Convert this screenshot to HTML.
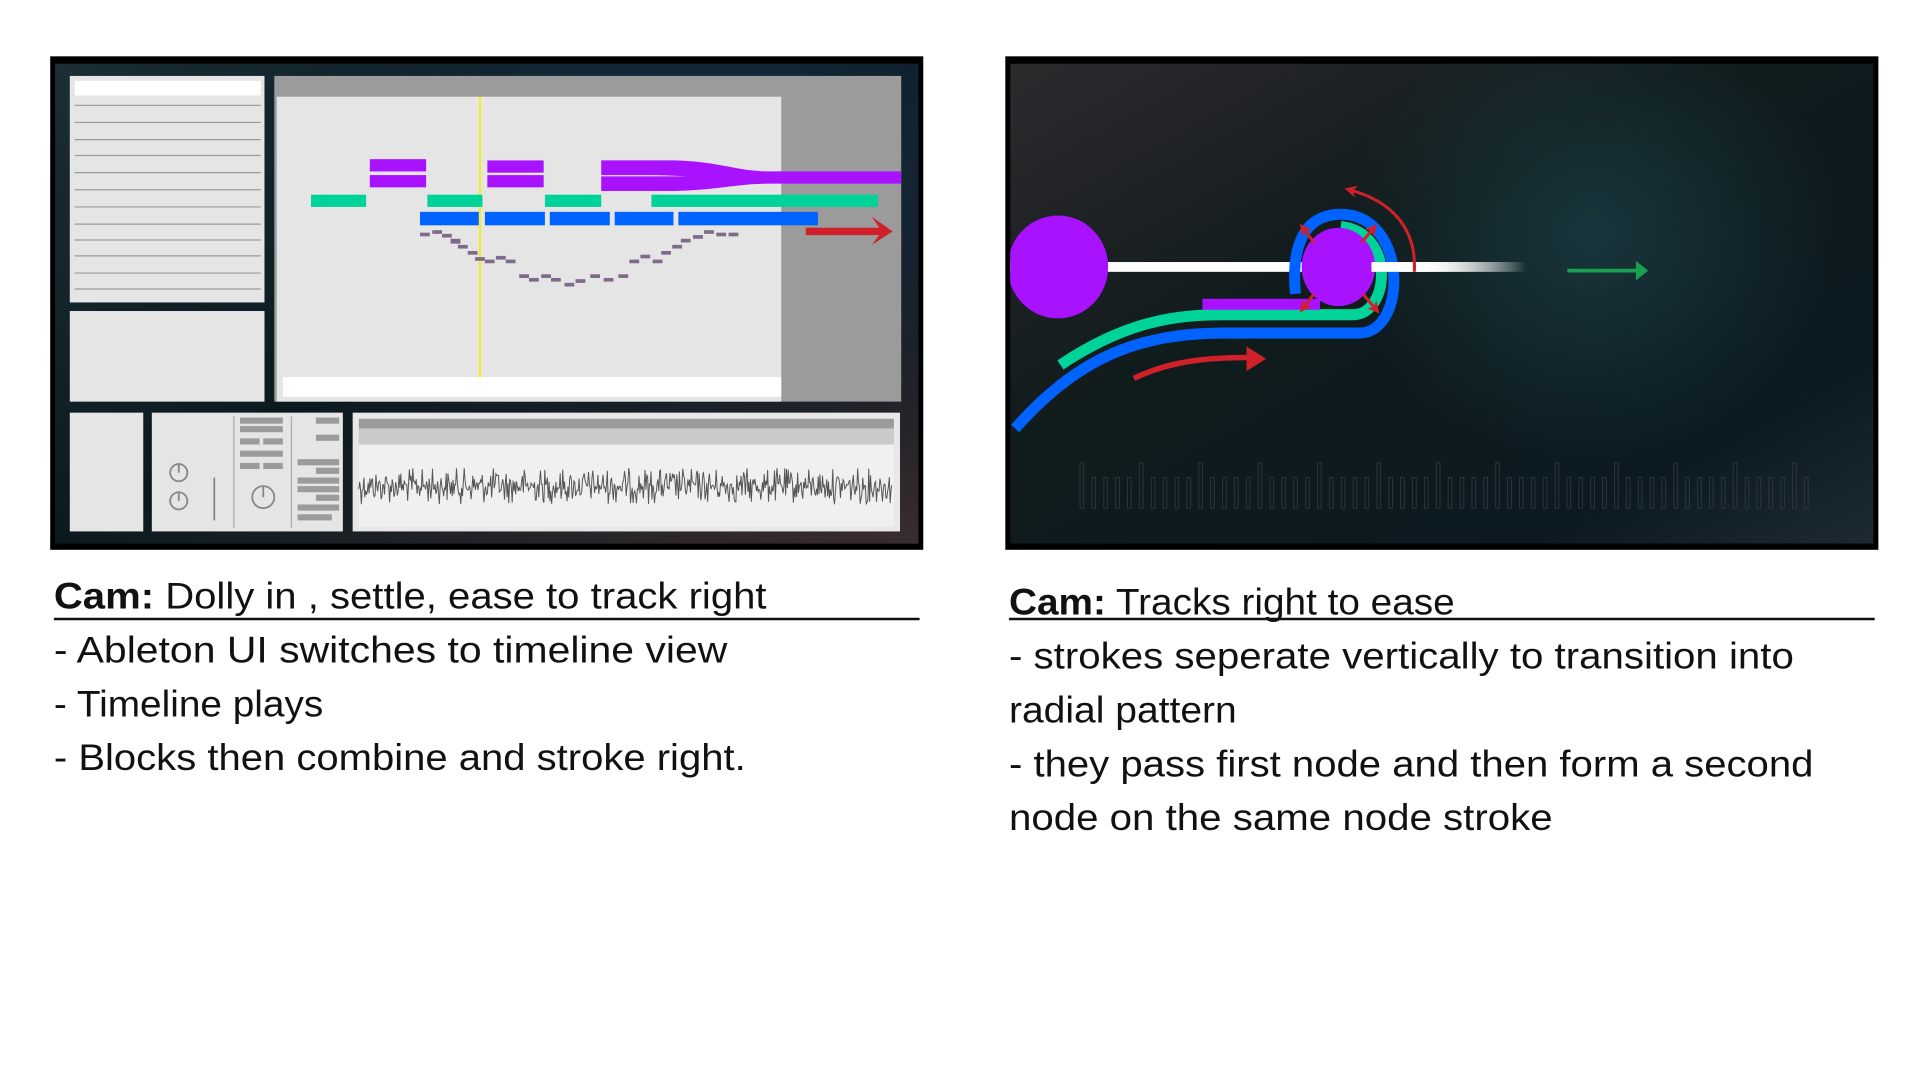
<!DOCTYPE html>
<html><head><meta charset="utf-8"><style>
html,body{margin:0;padding:0;background:#fff;}
svg{display:block}
text{font-family:"Liberation Sans Narrow","Liberation Sans",sans-serif;font-size:30px;fill:#111;}
</style></head><body>
<svg width="1920" height="1080" viewBox="0 0 1568 882" xmlns="http://www.w3.org/2000/svg">
<defs>
<radialGradient id="lg1" cx="0.75" cy="0.2" r="0.8"><stop offset="0" stop-color="#17304a"/><stop offset="1" stop-color="#0a1418" stop-opacity="0"/></radialGradient>
<linearGradient id="lbg" x1="0" y1="0" x2="1" y2="1"><stop offset="0" stop-color="#1c3036"/><stop offset="0.5" stop-color="#0b1a1f"/><stop offset="1" stop-color="#3a2c30"/></linearGradient>
<linearGradient id="rbg" x1="0" y1="0" x2="1" y2="1"><stop offset="0" stop-color="#2e2a2e"/><stop offset="0.4" stop-color="#101b1c"/><stop offset="0.8" stop-color="#0b1a22"/><stop offset="1" stop-color="#1c2a33"/></linearGradient>
<radialGradient id="rglow" cx="0.5" cy="0.5" r="0.5"><stop offset="0" stop-color="#1c4148" stop-opacity="0.7"/><stop offset="1" stop-color="#1c4148" stop-opacity="0"/></radialGradient>
<linearGradient id="fade" x1="0" x2="1"><stop offset="0.8" stop-color="#fff"/><stop offset="1" stop-color="#fff" stop-opacity="0"/></linearGradient>
<linearGradient id="fade2" x1="0" x2="1"><stop offset="0" stop-color="#fff"/><stop offset="1" stop-color="#fff" stop-opacity="0"/></linearGradient>
<clipPath id="rc"><rect x="825" y="52" width="705" height="392"/></clipPath>
<marker id="ar" viewBox="0 0 10 10" refX="6" refY="5" markerWidth="4" markerHeight="4" orient="auto"><path d="M0,0 L10,5 L0,10 L3,5z" fill="#d0202a"/></marker>
</defs>

<!-- LEFT PANEL -->
<rect x="41" y="46" width="713" height="403" fill="#000"/>
<rect x="45" y="52" width="705" height="392" fill="url(#lbg)"/>
<rect x="45" y="52" width="705" height="392" fill="url(#lg1)"/>
<rect x="57" y="62" width="159" height="185" fill="#e5e5e5"/>
<rect x="61" y="66" width="152" height="12" fill="#fff"/>
<g stroke="#9a9a9a" stroke-width="1">
<line x1="61" y1="86" x2="213" y2="86"/><line x1="61" y1="100" x2="213" y2="100"/><line x1="61" y1="114" x2="213" y2="114"/><line x1="61" y1="127" x2="213" y2="127"/><line x1="61" y1="141" x2="213" y2="141"/><line x1="61" y1="155" x2="213" y2="155"/><line x1="61" y1="169" x2="213" y2="169"/><line x1="61" y1="183" x2="213" y2="183"/><line x1="61" y1="196" x2="213" y2="196"/><line x1="61" y1="209" x2="213" y2="209"/><line x1="61" y1="223" x2="213" y2="223"/><line x1="61" y1="236" x2="213" y2="236"/>
</g>
<rect x="57" y="254" width="159" height="74" fill="#e5e5e5"/>
<rect x="224" y="62" width="512" height="266" fill="#9b9b9b"/>
<rect x="226" y="79" width="412" height="249" fill="#e5e5e5"/>
<rect x="231" y="308" width="407" height="16" fill="#fff"/>
<line x1="392" y1="79" x2="392" y2="308" stroke="#f5f000" stroke-width="1.5"/>
<g fill="#a812ff">
<rect x="302" y="130" width="46" height="10"/><rect x="302" y="143" width="46" height="10"/>
<rect x="398" y="131" width="46" height="10"/><rect x="398" y="143" width="46" height="10"/>
<path d="M491,131 L550,131 C590,132 600,140 630,140 L736,140 L736,150 L630,150 C600,150 590,155 550,156 L491,156 L491,144 L560,144 C540,143 540,143 491,143z"/>
</g>
<g fill="#00d39a">
<rect x="254" y="159" width="45" height="10"/><rect x="349" y="159" width="45" height="10"/><rect x="445" y="159" width="46" height="10"/><rect x="532" y="159" width="185" height="10"/>
</g>
<g fill="#0062ff">
<rect x="343" y="173" width="48" height="11"/><rect x="396" y="173" width="49" height="11"/><rect x="449" y="173" width="49" height="11"/><rect x="502" y="173" width="48" height="11"/><rect x="554" y="173" width="114" height="11"/>
</g>
<path d="M658,186 L718,186 L712,177 L729,189 L712,200 L718,192 L658,192z" fill="#d0202a"/>
<g fill="#806a8a">
<rect x="343" y="190" width="8" height="3"/><rect x="353" y="188" width="8" height="3"/><rect x="361" y="191" width="8" height="3"/><rect x="368" y="195" width="8" height="4"/><rect x="374" y="200" width="8" height="3"/><rect x="382" y="205" width="8" height="3"/><rect x="388" y="210" width="8" height="3"/><rect x="396" y="212" width="8" height="3"/><rect x="405" y="209" width="8" height="3"/><rect x="413" y="212" width="8" height="3"/><rect x="424" y="224" width="8" height="3"/><rect x="432" y="227" width="8" height="3"/><rect x="442" y="224" width="8" height="3"/><rect x="450" y="227" width="8" height="3"/><rect x="461" y="231" width="8" height="3"/><rect x="470" y="228" width="8" height="3"/><rect x="482" y="224" width="8" height="3"/><rect x="493" y="227" width="8" height="3"/><rect x="505" y="224" width="8" height="3"/><rect x="514" y="212" width="8" height="3"/><rect x="523" y="208" width="8" height="3"/><rect x="533" y="212" width="8" height="3"/><rect x="540" y="205" width="8" height="3"/><rect x="549" y="200" width="8" height="3"/><rect x="556" y="195" width="8" height="3"/><rect x="566" y="192" width="8" height="3"/><rect x="575" y="188" width="8" height="3"/><rect x="585" y="190" width="8" height="3"/><rect x="595" y="190" width="8" height="3"/>
</g>
<rect x="57" y="337" width="60" height="97" fill="#e5e5e5"/>
<rect x="124" y="337" width="156" height="97" fill="#e5e5e5"/>
<g stroke="#888" fill="none" stroke-width="1.5">
<circle cx="146" cy="386" r="7"/><circle cx="146" cy="409" r="7"/><circle cx="215" cy="406" r="9"/>
<line x1="146" y1="379" x2="146" y2="386"/><line x1="146" y1="402" x2="146" y2="409"/><line x1="215" y1="397" x2="215" y2="406"/>
<line x1="175" y1="390" x2="175" y2="425"/>
</g>
<line x1="191" y1="340" x2="191" y2="431" stroke="#aaa"/><line x1="238" y1="340" x2="238" y2="431" stroke="#aaa"/>
<g fill="#9b9b9b">
<rect x="196" y="341" width="35" height="5"/><rect x="196" y="348" width="35" height="5"/><rect x="196" y="358" width="16" height="5"/><rect x="215" y="358" width="16" height="5"/><rect x="196" y="368" width="35" height="5"/><rect x="196" y="378" width="16" height="5"/><rect x="215" y="378" width="16" height="5"/>
<rect x="258" y="341" width="19" height="5"/><rect x="258" y="355" width="19" height="5"/><rect x="243" y="375" width="34" height="5"/><rect x="258" y="382" width="19" height="5"/><rect x="243" y="390" width="34" height="5"/><rect x="243" y="397" width="34" height="5"/><rect x="258" y="404" width="19" height="5"/><rect x="243" y="412" width="34" height="5"/><rect x="243" y="420" width="28" height="5"/>
</g>
<rect x="288" y="337" width="447" height="97" fill="#e8e8e8"/>
<rect x="293" y="342" width="437" height="8" fill="#9b9b9b"/>
<rect x="293" y="350" width="437" height="13" fill="#cacaca"/>
<rect x="293" y="363" width="437" height="67" fill="#f0f0f0"/>
<polyline id="wave" fill="none" stroke="#555" stroke-width="0.8" points=""/>

<!-- RIGHT PANEL -->
<rect x="821" y="46" width="713" height="403" fill="#000"/>
<g clip-path="url(#rc)">
<rect x="825" y="52" width="705" height="392" fill="url(#rbg)"/>
<ellipse cx="1300" cy="190" rx="200" ry="190" fill="url(#rglow)"/>
<g id="bars" fill="none" stroke="#2a363c" stroke-width="0.8"></g>
<rect x="823" y="214" width="422" height="8" fill="url(#fade)"/>
<path d="M866,298 C920,262 960,257 1000,257 L1105,257 C1135,257 1140,190 1095,185" fill="none" stroke="#00d39a" stroke-width="9"/>
<path d="M829,350 C880,292 930,272 1000,272 L1110,272 C1150,272 1150,175 1095,175 C1060,175 1055,210 1058,240" fill="none" stroke="#0062ff" stroke-width="9"/>
<rect x="982" y="244" width="96" height="9" fill="#a812ff"/>
<ellipse cx="864" cy="218" rx="41" ry="42" fill="#a812ff"/>
<ellipse cx="1093" cy="218" rx="30" ry="32" fill="#a812ff"/>
<rect x="1120" y="214" width="40" height="8" fill="#fff"/>
<rect x="1158" y="214" width="90" height="8" fill="url(#fade2)"/>
<g stroke="#d0202a" stroke-width="2.5" fill="none" marker-end="url(#ar)">
<path d="M1155,222 C1157,190 1140,165 1102,155"/>
<line x1="1073" y1="198" x2="1064" y2="186"/>
<line x1="1112" y1="198" x2="1122" y2="186"/>
<line x1="1073" y1="240" x2="1064" y2="252"/>
<line x1="1113" y1="240" x2="1124" y2="253"/>
</g>
<path d="M926,309 C955,295 985,292 1020,292" fill="none" stroke="#d0202a" stroke-width="4.5"/>
<path d="M1018,283 L1034,293 L1018,303 z" fill="#d0202a"/>
<line x1="1280" y1="221" x2="1338" y2="221" stroke="#1aa050" stroke-width="3"/>
<path d="M1336,213 L1346,221 L1336,229z" fill="#1aa050"/>
</g>

<!-- TEXT -->
<text x="44" y="497" textLength="582" lengthAdjust="spacingAndGlyphs"><tspan font-weight="bold">Cam:</tspan> Dolly in , settle, ease to track right</text>
<line x1="44" y1="505.5" x2="751" y2="505.5" stroke="#111" stroke-width="2"/>
<text x="44" y="541" textLength="550" lengthAdjust="spacingAndGlyphs">- Ableton UI switches to timeline view</text>
<text x="44" y="585" textLength="220" lengthAdjust="spacingAndGlyphs">- Timeline plays</text>
<text x="44" y="629" textLength="565" lengthAdjust="spacingAndGlyphs">- Blocks then combine and stroke right.</text>

<text x="824" y="502" textLength="364" lengthAdjust="spacingAndGlyphs"><tspan font-weight="bold">Cam:</tspan> Tracks right to ease</text>
<line x1="824" y1="505.5" x2="1531" y2="505.5" stroke="#111" stroke-width="2"/>
<text x="824" y="546" textLength="641" lengthAdjust="spacingAndGlyphs">- strokes seperate vertically to transition into</text>
<text x="824" y="590" textLength="186" lengthAdjust="spacingAndGlyphs">radial pattern</text>
<text x="824" y="634" textLength="657" lengthAdjust="spacingAndGlyphs">- they pass first node and then form a second</text>
<text x="824" y="678" textLength="444" lengthAdjust="spacingAndGlyphs">node on the same node stroke</text>
</svg>
<script>
(function(){
var s=12345;function r(){s=(s*1103515245+12345)%2147483648;return s/2147483648;}
var p=[];for(var x=293;x<=729;x+=0.7){var a=(r()-0.5)*2;a=a*a*a*0.5+a*0.5;p.push(x.toFixed(1)+","+(397+a*15).toFixed(1));}
document.getElementById('wave').setAttribute('points',p.join(' '));
var g=document.getElementById('bars'),h='';
for(var i=0;i<62;i++){var x=882+i*9.7;var tall=(i%5==0);var y=tall?378:390;h+='<rect x="'+x.toFixed(1)+'" y="'+y+'" width="3" height="'+(415-y)+'"/>';}
g.innerHTML=h;
})();
</script>
</body></html>
